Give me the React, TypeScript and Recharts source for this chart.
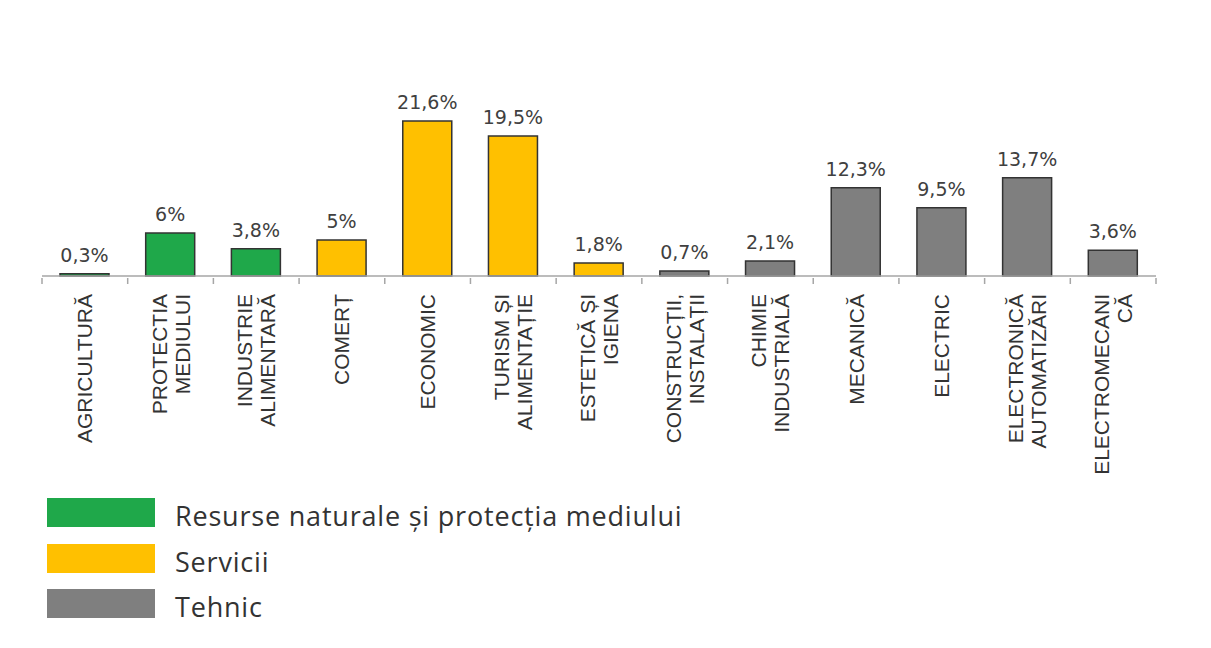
import { BarChart, Bar, XAxis, YAxis, Cell, LabelList } from "recharts";

// categories, split into the lines shown under each bar
const categories = [
  ["AGRICULTURĂ"],
  ["PROTECTIA", "MEDIULUI"],
  ["INDUSTRIE", "ALIMENTARĂ"],
  ["COMERȚ"],
  ["ECONOMIC"],
  ["TURISM ȘI", "ALIMENTAȚIE"],
  ["ESTETICĂ ȘI", "IGIENA"],
  ["CONSTRUCȚII,", "INSTALAȚII"],
  ["CHIMIE", "INDUSTRIALĂ"],
  ["MECANICĂ"],
  ["ELECTRIC"],
  ["ELECTRONICĂ", "AUTOMATIZĂRI"],
  ["ELECTROMECANI", "CĂ"],
];
const shares = [0.3, 6, 3.8, 5, 21.6, 19.5, 1.8, 0.7, 2.1, 12.3, 9.5, 13.7, 3.6];
const groupOf = [0, 0, 0, 1, 1, 1, 1, 2, 2, 2, 2, 2, 2];
const groupNames = ["Resurse naturale și protecția mediului", "Servicii", "Tehnic"];
const groupColors = ["#1fa84a", "#ffc000", "#7f7f7f"];

const data = categories.map((lines, i) => ({
  name: lines.join(" "),
  lines,
  value: shares[i],
  group: groupOf[i],
}));

const W = 1195;
const M = { top: 88.5, right: 47, left: 34, bottom: 0 };
const BAND = (W - M.left - M.right) / categories.length;

// category label plus the small tick marks on the band edges
const LabelTick = (props: any) => {
  const { x, y, payload, index } = props;
  const lines: string[] = data[index] ? data[index].lines : [payload.value];
  const lh = 23;
  const first = 7.5 - ((lines.length - 1) * lh) / 2;
  const last = index === data.length - 1;
  return (
    <g>
      <line x1={x - BAND / 2} x2={x - BAND / 2} y1={y} y2={y + 6} stroke="#a6a6a6" strokeWidth={1.5} />
      {last && (
        <line x1={x + BAND / 2} x2={x + BAND / 2} y1={y} y2={y + 6} stroke="#a6a6a6" strokeWidth={1.5} />
      )}
      <g transform={`translate(${x},${286})`}>
        <text
          transform="rotate(-90)"
          textAnchor="end"
          fontSize={21}
          fontFamily="Liberation Sans, Arial, sans-serif"
          fill="#333"
        >
          {lines.map((l, i) => (
            <tspan key={i} x={0} y={first + i * lh}>
              {l}
            </tspan>
          ))}
        </text>
      </g>
    </g>
  );
};

const fmt = (v: any) => String(v).replace(".", ",") + "%";

export default function App() {
  return (
    <div style={{ position: "relative", width: 1195, height: 632, background: "#fff" }}>
      <BarChart width={W} height={480} data={data} margin={M}>
        <XAxis
          dataKey="name"
          interval={0}
          stroke="#a6a6a6"
          strokeWidth={1.5}
          tickLine={false}
          tickSize={0}
          height={212}
          tick={<LabelTick />}
        />
        <YAxis hide width={0} domain={[0, 25]} />
        <Bar
          dataKey="value"
          barSize={49}
          stroke="#333"
          strokeWidth={1.5}
          isAnimationActive={false}
        >
          {data.map((d, i) => (
            <Cell key={i} fill={groupColors[d.group]} />
          ))}
          <LabelList
            dataKey="value"
            position="top"
            offset={12}
            formatter={fmt}
            fontSize={19}
            fontFamily="DejaVu Sans, Verdana, sans-serif"
            fill="#404040"
          />
        </Bar>
      </BarChart>
      <div style={{ position: "absolute", left: 39, top: 490 }}>
        {groupNames.map((g, i) => (
          <div key={g} style={{ position: "relative", height: 45.5 }}>
            <div style={{ position: "absolute", left: 0, top: 0, width: 108, height: 29, background: groupColors[i] }} />
            <span
              style={{
                position: "absolute",
                left: 128,
                top: 4,
                lineHeight: "27px",
                whiteSpace: "nowrap",
                fontFamily: "Open Sans, sans-serif",
                fontSize: 27,
                letterSpacing: 0.8,
                color: "#333",
              }}
            >
              {g}
            </span>
          </div>
        ))}
      </div>
    </div>
  );
}
